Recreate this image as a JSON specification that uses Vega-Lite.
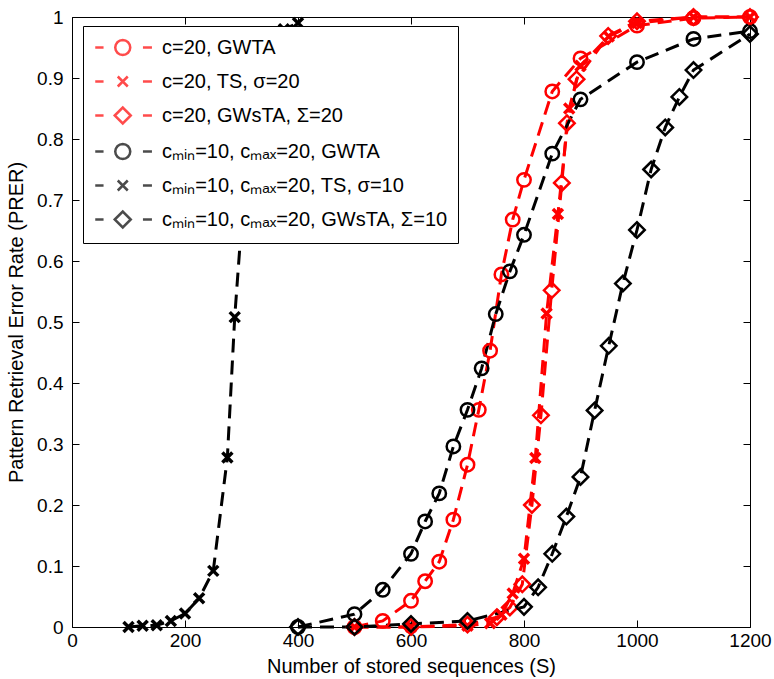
{
  "$schema": "https://vega.github.io/schema/vega-lite/v6.json",
  "width": 678,
  "height": 610,
  "autosize": {"type": "none"},
  "padding": {"left": 72, "top": 17, "right": 24, "bottom": 52},
  "background": "white",
  "config": {
    "font": "Liberation Sans",
    "view": {"stroke": "black", "strokeWidth": 1},
    "axis": {
      "grid": false,
      "domain": false,
      "ticks": true,
      "tickColor": "#000000",
      "tickSize": 7,
      "tickWidth": 1,
      "tickOpacity": 1,
      "offset": -7,
      "labelColor": "black",
      "labelFont": "Liberation Sans",
      "labelFontSize": 19,
      "labelFlush": false,
      "labelOverlap": false,
      "titleFont": "Liberation Sans",
      "titleFontSize": 20,
      "titleFontWeight": "normal",
      "titleColor": "black"
    }
  },
  "datasets": {
    "prer": [
      {"series": "c=20, GWTA", "S": 500, "PRER": 0},
      {"series": "c=20, GWTA", "S": 550, "PRER": 0.01},
      {"series": "c=20, GWTA", "S": 600, "PRER": 0.043},
      {"series": "c=20, GWTA", "S": 625, "PRER": 0.075},
      {"series": "c=20, GWTA", "S": 650, "PRER": 0.107},
      {"series": "c=20, GWTA", "S": 675, "PRER": 0.176},
      {"series": "c=20, GWTA", "S": 700, "PRER": 0.266},
      {"series": "c=20, GWTA", "S": 720, "PRER": 0.356},
      {"series": "c=20, GWTA", "S": 740, "PRER": 0.453},
      {"series": "c=20, GWTA", "S": 760, "PRER": 0.578},
      {"series": "c=20, GWTA", "S": 780, "PRER": 0.668},
      {"series": "c=20, GWTA", "S": 800, "PRER": 0.733},
      {"series": "c=20, GWTA", "S": 850, "PRER": 0.878},
      {"series": "c=20, GWTA", "S": 900, "PRER": 0.932},
      {"series": "c=20, GWTA", "S": 1000, "PRER": 0.986},
      {"series": "c=20, GWTA", "S": 1100, "PRER": 0.998},
      {"series": "c=20, GWTA", "S": 1200, "PRER": 1.0},

      {"series": "c=20, TS, σ=20", "S": 500, "PRER": 0},
      {"series": "c=20, TS, σ=20", "S": 600, "PRER": 0},
      {"series": "c=20, TS, σ=20", "S": 700, "PRER": 0.002},
      {"series": "c=20, TS, σ=20", "S": 740, "PRER": 0.006},
      {"series": "c=20, TS, σ=20", "S": 760, "PRER": 0.02},
      {"series": "c=20, TS, σ=20", "S": 780, "PRER": 0.055},
      {"series": "c=20, TS, σ=20", "S": 800, "PRER": 0.112},
      {"series": "c=20, TS, σ=20", "S": 820, "PRER": 0.277},
      {"series": "c=20, TS, σ=20", "S": 840, "PRER": 0.514},
      {"series": "c=20, TS, σ=20", "S": 860, "PRER": 0.677},
      {"series": "c=20, TS, σ=20", "S": 880, "PRER": 0.85},
      {"series": "c=20, TS, σ=20", "S": 900, "PRER": 0.92},
      {"series": "c=20, TS, σ=20", "S": 950, "PRER": 0.968},
      {"series": "c=20, TS, σ=20", "S": 1000, "PRER": 0.99},
      {"series": "c=20, TS, σ=20", "S": 1100, "PRER": 1.0},
      {"series": "c=20, TS, σ=20", "S": 1200, "PRER": 1.0},

      {"series": "c=20, GWsTA, Σ=20", "S": 500, "PRER": 0},
      {"series": "c=20, GWsTA, Σ=20", "S": 600, "PRER": 0},
      {"series": "c=20, GWsTA, Σ=20", "S": 700, "PRER": 0.004},
      {"series": "c=20, GWsTA, Σ=20", "S": 752, "PRER": 0.016},
      {"series": "c=20, GWsTA, Σ=20", "S": 775, "PRER": 0.032},
      {"series": "c=20, GWsTA, Σ=20", "S": 797, "PRER": 0.07},
      {"series": "c=20, GWsTA, Σ=20", "S": 814, "PRER": 0.2},
      {"series": "c=20, GWsTA, Σ=20", "S": 830, "PRER": 0.347},
      {"series": "c=20, GWsTA, Σ=20", "S": 849, "PRER": 0.552},
      {"series": "c=20, GWsTA, Σ=20", "S": 867, "PRER": 0.728},
      {"series": "c=20, GWsTA, Σ=20", "S": 876, "PRER": 0.826},
      {"series": "c=20, GWsTA, Σ=20", "S": 893, "PRER": 0.898},
      {"series": "c=20, GWsTA, Σ=20", "S": 949, "PRER": 0.969},
      {"series": "c=20, GWsTA, Σ=20", "S": 1000, "PRER": 0.993},
      {"series": "c=20, GWsTA, Σ=20", "S": 1100, "PRER": 1.0},
      {"series": "c=20, GWsTA, Σ=20", "S": 1200, "PRER": 1.0},

      {"series": "c\u2098\u1d62\u2099=10, c\u2098\u2090\u2093=20, GWTA", "S": 400, "PRER": 0},
      {"series": "c\u2098\u1d62\u2099=10, c\u2098\u2090\u2093=20, GWTA", "S": 500, "PRER": 0.021},
      {"series": "c\u2098\u1d62\u2099=10, c\u2098\u2090\u2093=20, GWTA", "S": 550, "PRER": 0.061},
      {"series": "c\u2098\u1d62\u2099=10, c\u2098\u2090\u2093=20, GWTA", "S": 600, "PRER": 0.12},
      {"series": "c\u2098\u1d62\u2099=10, c\u2098\u2090\u2093=20, GWTA", "S": 625, "PRER": 0.173},
      {"series": "c\u2098\u1d62\u2099=10, c\u2098\u2090\u2093=20, GWTA", "S": 650, "PRER": 0.219},
      {"series": "c\u2098\u1d62\u2099=10, c\u2098\u2090\u2093=20, GWTA", "S": 675, "PRER": 0.296},
      {"series": "c\u2098\u1d62\u2099=10, c\u2098\u2090\u2093=20, GWTA", "S": 700, "PRER": 0.356},
      {"series": "c\u2098\u1d62\u2099=10, c\u2098\u2090\u2093=20, GWTA", "S": 725, "PRER": 0.424},
      {"series": "c\u2098\u1d62\u2099=10, c\u2098\u2090\u2093=20, GWTA", "S": 750, "PRER": 0.513},
      {"series": "c\u2098\u1d62\u2099=10, c\u2098\u2090\u2093=20, GWTA", "S": 775, "PRER": 0.583},
      {"series": "c\u2098\u1d62\u2099=10, c\u2098\u2090\u2093=20, GWTA", "S": 800, "PRER": 0.643},
      {"series": "c\u2098\u1d62\u2099=10, c\u2098\u2090\u2093=20, GWTA", "S": 850, "PRER": 0.776},
      {"series": "c\u2098\u1d62\u2099=10, c\u2098\u2090\u2093=20, GWTA", "S": 900, "PRER": 0.865},
      {"series": "c\u2098\u1d62\u2099=10, c\u2098\u2090\u2093=20, GWTA", "S": 1000, "PRER": 0.926},
      {"series": "c\u2098\u1d62\u2099=10, c\u2098\u2090\u2093=20, GWTA", "S": 1100, "PRER": 0.964},
      {"series": "c\u2098\u1d62\u2099=10, c\u2098\u2090\u2093=20, GWTA", "S": 1200, "PRER": 0.977},

      {"series": "c\u2098\u1d62\u2099=10, c\u2098\u2090\u2093=20, TS, σ=10", "S": 100, "PRER": 0},
      {"series": "c\u2098\u1d62\u2099=10, c\u2098\u2090\u2093=20, TS, σ=10", "S": 125, "PRER": 0.002},
      {"series": "c\u2098\u1d62\u2099=10, c\u2098\u2090\u2093=20, TS, σ=10", "S": 150, "PRER": 0.003},
      {"series": "c\u2098\u1d62\u2099=10, c\u2098\u2090\u2093=20, TS, σ=10", "S": 175, "PRER": 0.01},
      {"series": "c\u2098\u1d62\u2099=10, c\u2098\u2090\u2093=20, TS, σ=10", "S": 200, "PRER": 0.022},
      {"series": "c\u2098\u1d62\u2099=10, c\u2098\u2090\u2093=20, TS, σ=10", "S": 225, "PRER": 0.047},
      {"series": "c\u2098\u1d62\u2099=10, c\u2098\u2090\u2093=20, TS, σ=10", "S": 250, "PRER": 0.092},
      {"series": "c\u2098\u1d62\u2099=10, c\u2098\u2090\u2093=20, TS, σ=10", "S": 275, "PRER": 0.278},
      {"series": "c\u2098\u1d62\u2099=10, c\u2098\u2090\u2093=20, TS, σ=10", "S": 288, "PRER": 0.508},
      {"series": "c\u2098\u1d62\u2099=10, c\u2098\u2090\u2093=20, TS, σ=10", "S": 300, "PRER": 0.66},
      {"series": "c\u2098\u1d62\u2099=10, c\u2098\u2090\u2093=20, TS, σ=10", "S": 325, "PRER": 0.9},
      {"series": "c\u2098\u1d62\u2099=10, c\u2098\u2090\u2093=20, TS, σ=10", "S": 350, "PRER": 0.962},
      {"series": "c\u2098\u1d62\u2099=10, c\u2098\u2090\u2093=20, TS, σ=10", "S": 375, "PRER": 0.98},
      {"series": "c\u2098\u1d62\u2099=10, c\u2098\u2090\u2093=20, TS, σ=10", "S": 400, "PRER": 0.99},

      {"series": "c\u2098\u1d62\u2099=10, c\u2098\u2090\u2093=20, GWsTA, Σ=10", "S": 400, "PRER": 0},
      {"series": "c\u2098\u1d62\u2099=10, c\u2098\u2090\u2093=20, GWsTA, Σ=10", "S": 500, "PRER": 0},
      {"series": "c\u2098\u1d62\u2099=10, c\u2098\u2090\u2093=20, GWsTA, Σ=10", "S": 600, "PRER": 0.005},
      {"series": "c\u2098\u1d62\u2099=10, c\u2098\u2090\u2093=20, GWsTA, Σ=10", "S": 700, "PRER": 0.01},
      {"series": "c\u2098\u1d62\u2099=10, c\u2098\u2090\u2093=20, GWsTA, Σ=10", "S": 800, "PRER": 0.033},
      {"series": "c\u2098\u1d62\u2099=10, c\u2098\u2090\u2093=20, GWsTA, Σ=10", "S": 825, "PRER": 0.065},
      {"series": "c\u2098\u1d62\u2099=10, c\u2098\u2090\u2093=20, GWsTA, Σ=10", "S": 850, "PRER": 0.12},
      {"series": "c\u2098\u1d62\u2099=10, c\u2098\u2090\u2093=20, GWsTA, Σ=10", "S": 875, "PRER": 0.181},
      {"series": "c\u2098\u1d62\u2099=10, c\u2098\u2090\u2093=20, GWsTA, Σ=10", "S": 900, "PRER": 0.246},
      {"series": "c\u2098\u1d62\u2099=10, c\u2098\u2090\u2093=20, GWsTA, Σ=10", "S": 925, "PRER": 0.355},
      {"series": "c\u2098\u1d62\u2099=10, c\u2098\u2090\u2093=20, GWsTA, Σ=10", "S": 950, "PRER": 0.461},
      {"series": "c\u2098\u1d62\u2099=10, c\u2098\u2090\u2093=20, GWsTA, Σ=10", "S": 975, "PRER": 0.563},
      {"series": "c\u2098\u1d62\u2099=10, c\u2098\u2090\u2093=20, GWsTA, Σ=10", "S": 1000, "PRER": 0.651},
      {"series": "c\u2098\u1d62\u2099=10, c\u2098\u2090\u2093=20, GWsTA, Σ=10", "S": 1025, "PRER": 0.75},
      {"series": "c\u2098\u1d62\u2099=10, c\u2098\u2090\u2093=20, GWsTA, Σ=10", "S": 1050, "PRER": 0.819},
      {"series": "c\u2098\u1d62\u2099=10, c\u2098\u2090\u2093=20, GWsTA, Σ=10", "S": 1075, "PRER": 0.869},
      {"series": "c\u2098\u1d62\u2099=10, c\u2098\u2090\u2093=20, GWsTA, Σ=10", "S": 1100, "PRER": 0.913},
      {"series": "c\u2098\u1d62\u2099=10, c\u2098\u2090\u2093=20, GWsTA, Σ=10", "S": 1200, "PRER": 0.972}
    ]
  },
  "data": {"name": "prer"},
  "layer": [
    {
      "mark": {"type": "line", "strokeDash": [14, 8], "strokeWidth": 3},
      "encoding": {
        "x": {
          "field": "S", "type": "quantitative",
          "scale": {"domain": [0, 1200], "nice": false, "zero": false},
          "axis": {
            "orient": "bottom",
            "tickCount": 6,
            "format": "d",
            "title": "Number of stored sequences (S)",
            "labelPadding": 4,
            "titlePadding": 6
          }
        },
        "y": {
          "field": "PRER", "type": "quantitative",
          "scale": {"domain": [0, 1], "nice": false},
          "axis": {
            "orient": "left",
            "tickCount": 10,
            "format": "~g",
            "title": "Pattern Retrieval Error Rate (PRER)",
            "labelPadding": 9,
            "titlePadding": 10
          }
        },
        "stroke": {
          "field": "series", "type": "nominal", "legend": null,
          "scale": {
            "domain": ["c\u2098\u1d62\u2099=10, c\u2098\u2090\u2093=20, GWsTA, Σ=10", "c\u2098\u1d62\u2099=10, c\u2098\u2090\u2093=20, TS, σ=10", "c\u2098\u1d62\u2099=10, c\u2098\u2090\u2093=20, GWTA", "c=20, GWsTA, Σ=20", "c=20, TS, σ=20", "c=20, GWTA"],
            "range": ["#000000", "#000000", "#000000", "#ff0000", "#ff0000", "#ff0000"]
          }
        }
      }
    },
    {
      "transform": [{"filter": "indexof(datum.series, 'GWTA') >= 0"}],
      "mark": {"type": "point", "shape": "circle", "filled": false, "size": 180, "strokeWidth": 2.5, "opacity": 1},
      "encoding": {
        "x": {"field": "S", "type": "quantitative", "axis": null},
        "y": {"field": "PRER", "type": "quantitative", "axis": null},
        "stroke": {"field": "series", "type": "nominal", "legend": null}
      }
    },
    {
      "transform": [{"filter": "indexof(datum.series, 'TS,') >= 0"}],
      "mark": {"type": "point", "shape": "M-1,-1L1,1M-1,1L1,-1", "filled": false, "size": 100, "strokeWidth": 3.5, "opacity": 1},
      "encoding": {
        "x": {"field": "S", "type": "quantitative", "axis": null},
        "y": {"field": "PRER", "type": "quantitative", "axis": null},
        "stroke": {"field": "series", "type": "nominal", "legend": null}
      }
    },
    {
      "transform": [{"filter": "indexof(datum.series, 'GWsTA') >= 0"}],
      "mark": {"type": "point", "shape": "diamond", "filled": false, "size": 240, "strokeWidth": 2.5, "opacity": 1},
      "encoding": {
        "x": {"field": "S", "type": "quantitative", "axis": null},
        "y": {"field": "PRER", "type": "quantitative", "axis": null},
        "stroke": {"field": "series", "type": "nominal", "legend": null}
      }
    },
    {
      "mark": {"type": "point", "filled": false, "strokeWidth": 2.5},
      "encoding": {
        "x": {
          "field": "S", "type": "quantitative",
          "axis": {"orient": "top", "tickCount": 6, "labels": false, "title": null}
        },
        "y": {
          "field": "PRER", "type": "quantitative",
          "axis": {"orient": "right", "tickCount": 10, "labels": false, "title": null}
        },
        "size": {"value": 0},
        "color": {
          "field": "series", "type": "nominal",
          "scale": {
            "domain": ["c=20, GWTA", "c=20, TS, σ=20", "c=20, GWsTA, Σ=20", "c\u2098\u1d62\u2099=10, c\u2098\u2090\u2093=20, GWTA", "c\u2098\u1d62\u2099=10, c\u2098\u2090\u2093=20, TS, σ=10", "c\u2098\u1d62\u2099=10, c\u2098\u2090\u2093=20, GWsTA, Σ=10"],
            "range": ["#ff0000", "#ff0000", "#ff0000", "#000000", "#000000", "#000000"]
          },
          "legend": {
            "title": null, "orient": "none", "legendX": 11, "legendY": 9,
            "padding": 10, "strokeColor": "black", "fillColor": "white",
            "labelFont": "Liberation Sans", "labelFontSize": 20, "labelColor": "black", "labelLimit": 400,
            "labelOffset": 46, "rowPadding": 10, "symbolSize": 400, "symbolStrokeWidth": 2.5
          }
        },
        "shape": {
          "field": "series", "type": "nominal",
          "scale": {
            "domain": ["c=20, GWTA", "c=20, TS, σ=20", "c=20, GWsTA, Σ=20", "c\u2098\u1d62\u2099=10, c\u2098\u2090\u2093=20, GWTA", "c\u2098\u1d62\u2099=10, c\u2098\u2090\u2093=20, TS, σ=10", "c\u2098\u1d62\u2099=10, c\u2098\u2090\u2093=20, GWsTA, Σ=10"],
            "range": [
              "M-0.925,0L-0.095,0M3.845,0L4.745,0M2.575,0L2.518,0.287L2.355,0.530L2.112,0.693L1.825,0.75L1.538,0.693L1.295,0.530L1.132,0.287L1.075,0L1.132,-0.287L1.295,-0.530L1.538,-0.693L1.825,-0.75L2.112,-0.693L2.355,-0.530L2.518,-0.287Z",
              "M-0.925,0L-0.095,0M3.845,0L4.745,0M1.325,-0.5L2.325,0.5M1.325,0.5L2.325,-0.5",
              "M-0.925,0L-0.095,0M3.845,0L4.745,0M1.025,0L1.825,-0.8L2.625,0L1.825,0.8Z",
              "M-0.925,0L-0.095,0M3.845,0L4.745,0M2.575,0L2.518,0.287L2.355,0.530L2.112,0.693L1.825,0.75L1.538,0.693L1.295,0.530L1.132,0.287L1.075,0L1.132,-0.287L1.295,-0.530L1.538,-0.693L1.825,-0.75L2.112,-0.693L2.355,-0.530L2.518,-0.287Z",
              "M-0.925,0L-0.095,0M3.845,0L4.745,0M1.325,-0.5L2.325,0.5M1.325,0.5L2.325,-0.5",
              "M-0.925,0L-0.095,0M3.845,0L4.745,0M1.025,0L1.825,-0.8L2.625,0L1.825,0.8Z"
            ]
          },
          "legend": {
            "title": null, "orient": "none", "legendX": 11, "legendY": 9,
            "padding": 10, "strokeColor": "black", "fillColor": "white",
            "labelFont": "Liberation Sans", "labelFontSize": 20, "labelColor": "black", "labelLimit": 400,
            "labelOffset": 46, "rowPadding": 10, "symbolSize": 400, "symbolStrokeWidth": 2.5
          }
        }
      }
    }
  ],
  "resolve": {"axis": {"x": "independent", "y": "independent"}}
}
